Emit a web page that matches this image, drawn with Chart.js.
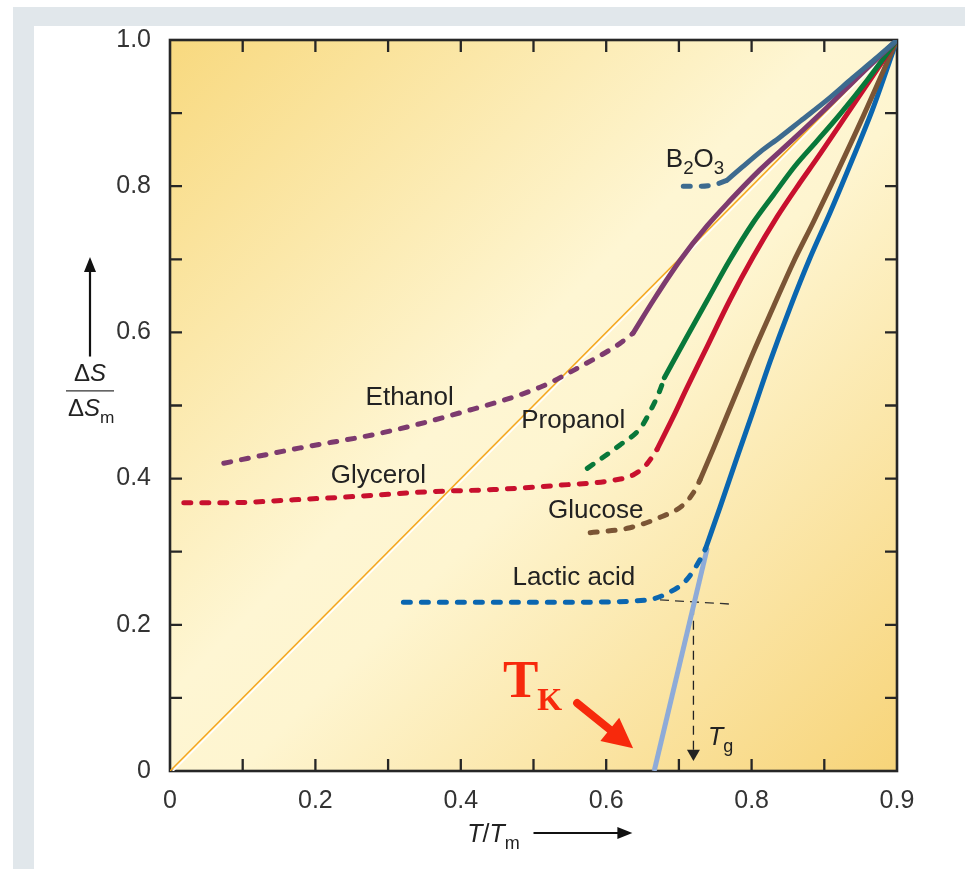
<!DOCTYPE html>
<html>
<head>
<meta charset="utf-8">
<title>Entropy of supercooled liquids</title>
<script src="https://cdn.jsdelivr.net/npm/chart.js@4.4.1/dist/chart.umd.min.js"></script>
<style>
  html, body { margin: 0; padding: 0; background: #fff; }
  #page { position: relative; width: 965px; height: 869px; overflow: hidden; background: #fff; }
  .band { position: absolute; background: #e1e7eb; }
  #bandTop { left: 13px; top: 7px; width: 952px; height: 19px; }
  #bandLeft { left: 13px; top: 7px; width: 21px; height: 862px; }
  canvas { position: absolute; left: 0; top: 0; }
</style>
</head>
<body>
<div id="page">
  <div class="band" id="bandTop"></div>
  <div class="band" id="bandLeft"></div>
  <canvas id="chart" width="965" height="869"></canvas>
</div>
<script>
// Axis ticks (T/Tm across, ΔS/ΔSm up)
const xTickValues = [0, 0.2, 0.4, 0.6, 0.8, 1.0];
const xTickLabels = ['0', '0.2', '0.4', '0.6', '0.8', '0.9'];
const yTickValues = [0, 0.2, 0.4, 0.6, 0.8, 1.0];
const yTickLabels = ['0', '0.2', '0.4', '0.6', '0.8', '1.0'];
const frameTicks = [0.1, 0.2, 0.3, 0.4, 0.5, 0.6, 0.7, 0.8, 0.9];

// Entropy excess of the crystal-equivalent line
const kauzmannDiagonal = [[0, 0], [1, 1]];

// Each substance: glassy branch (dashed) and liquid branch (solid), [T/Tm, ΔS/ΔSm]
const b2o3Glass = [[0.706, 0.800], [0.730, 0.800], [0.752, 0.803], [0.766, 0.808]];
const b2o3Liquid = [[0.766, 0.808], [0.787, 0.826], [0.812, 0.847], [0.839, 0.867], [0.867, 0.889], [0.904, 0.918], [0.939, 0.948], [0.970, 0.974], [1, 1]];

const ethanolGlass = [[0.074, 0.421], [0.179, 0.442], [0.289, 0.462], [0.399, 0.490], [0.509, 0.525], [0.564, 0.553], [0.619, 0.585], [0.637, 0.599]];
const ethanolLiquid = [[0.637, 0.599], [0.665, 0.644], [0.702, 0.699], [0.739, 0.746], [0.770, 0.780], [0.811, 0.822], [0.857, 0.864], [0.904, 0.908], [0.949, 0.952], [1, 1]];

const propanolGlass = [[0.574, 0.414], [0.619, 0.446], [0.647, 0.469], [0.663, 0.497], [0.674, 0.521], [0.680, 0.538]];
const propanolLiquid = [[0.680, 0.538], [0.711, 0.594], [0.739, 0.644], [0.770, 0.699], [0.802, 0.750], [0.830, 0.788], [0.860, 0.828], [0.890, 0.862], [0.922, 0.899], [0.959, 0.945], [1, 1]];

const glycerolGlass = [[0.019, 0.367], [0.079, 0.367], [0.170, 0.371], [0.262, 0.376], [0.354, 0.382], [0.445, 0.385], [0.537, 0.391], [0.605, 0.397], [0.637, 0.405], [0.656, 0.420], [0.670, 0.440]];
const glycerolLiquid = [[0.670, 0.440], [0.692, 0.484], [0.711, 0.524], [0.739, 0.581], [0.770, 0.644], [0.802, 0.703], [0.835, 0.758], [0.866, 0.804], [0.890, 0.838], [0.935, 0.904], [1, 1]];

const glucoseGlass = [[0.578, 0.326], [0.629, 0.332], [0.674, 0.347], [0.706, 0.364], [0.722, 0.384], [0.729, 0.398]];
const glucoseLiquid = [[0.729, 0.398], [0.747, 0.440], [0.766, 0.486], [0.784, 0.529], [0.802, 0.572], [0.830, 0.635], [0.857, 0.695], [0.885, 0.751], [0.912, 0.807], [0.950, 0.888], [1, 1]];

const lacticGlass = [[0.321, 0.231], [0.427, 0.231], [0.564, 0.231], [0.656, 0.234], [0.688, 0.245], [0.711, 0.262], [0.729, 0.289], [0.737, 0.305]];
const lacticLiquid = [[0.737, 0.305], [0.757, 0.362], [0.780, 0.429], [0.802, 0.492], [0.825, 0.559], [0.853, 0.634], [0.880, 0.701], [0.908, 0.764], [0.935, 0.828], [0.966, 0.904], [1, 1]];

// Extrapolation of the lactic-acid liquid down to zero excess entropy (T_K)
const kauzmannExtrapolation = [[0.666, 0], [0.739, 0.305]];

// Glass-transition construction for lactic acid
const tgHorizontal = [[0.674, 0.234], [0.777, 0.228]];
const tgVertical = [[0.720, 0.226], [0.720, 0.024]];

// Annotation anchors in data units (left edge, baseline)
const curveLabels = [
  { runs: [['Ethanol']], x: 0.269, y: 0.501 },
  { runs: [['Propanol']], x: 0.483, y: 0.469 },
  { runs: [['Glycerol']], x: 0.221, y: 0.394 },
  { runs: [['Glucose']], x: 0.520, y: 0.346 },
  { runs: [['Lactic acid']], x: 0.471, y: 0.254 },
  { runs: [['B'], ['2', 'sub'], ['O'], ['3', 'sub']], x: 0.682, y: 0.826 }
];
const tgLabelAt = { x: 0.740, y: 0.036 };
const tkLabelAt = { x: 0.458, y: 0.101 };
const tkArrow = { from: [0.560, 0.093], to: [0.637, 0.031] };

const SANS = '"Liberation Sans", Arial, Helvetica, sans-serif';
const SERIF = '"Liberation Serif", "Times New Roman", serif';

const pts = arr => arr.map(([x, y]) => ({ x, y }));

function liquid(label, data, color) {
  return {
    label, data: pts(data), borderColor: color, borderWidth: 5,
    borderCapStyle: 'round', borderJoinStyle: 'round',
    pointRadius: 0, pointHoverRadius: 0, fill: false,
    cubicInterpolationMode: 'monotone', order: 0
  };
}
function glass(label, data, color) {
  return Object.assign(liquid(label, data, color), { borderDash: [7, 11] });
}

const COLORS = {
  b2o3: '#3d6b8f', ethanol: '#7d3a6f', propanol: '#08783a', glycerol: '#c8102e',
  glucose: '#7b5535', lactic: '#0a66b0', extrap: '#8eabd8', diag: '#f4a51c'
};

const datasets = [
  { label: 'ideal', data: pts(kauzmannDiagonal), borderColor: COLORS.diag, borderWidth: 1.5,
    pointRadius: 0, fill: false, tension: 0, order: 5, glow: true },
  { label: 'T_K extrapolation', data: pts(kauzmannExtrapolation), borderColor: COLORS.extrap, borderWidth: 5,
    borderCapStyle: 'butt', pointRadius: 0, fill: false, tension: 0, order: 2 },
  { label: 'Tg horizontal', data: pts(tgHorizontal), borderColor: '#333', borderWidth: 1.3,
    borderDash: [9, 6], pointRadius: 0, fill: false, tension: 0, order: 3 },
  { label: 'Tg vertical', data: pts(tgVertical), borderColor: '#222', borderWidth: 1.3,
    borderDash: [9, 6], pointRadius: [0, 7.5], pointStyle: 'triangle', rotation: 180,
    pointBackgroundColor: '#222', pointBorderWidth: 0, fill: false, tension: 0, order: 3 },
  glass('B2O3 glass', b2o3Glass, COLORS.b2o3),
  liquid('B2O3', b2o3Liquid, COLORS.b2o3),
  glass('Ethanol glass', ethanolGlass, COLORS.ethanol),
  liquid('Ethanol', ethanolLiquid, COLORS.ethanol),
  glass('Propanol glass', propanolGlass, COLORS.propanol),
  liquid('Propanol', propanolLiquid, COLORS.propanol),
  glass('Glycerol glass', glycerolGlass, COLORS.glycerol),
  liquid('Glycerol', glycerolLiquid, COLORS.glycerol),
  glass('Glucose glass', glucoseGlass, COLORS.glucose),
  liquid('Glucose', glucoseLiquid, COLORS.glucose),
  glass('Lactic acid glass', lacticGlass, COLORS.lactic),
  liquid('Lactic acid', lacticLiquid, COLORS.lactic)
];

// Draw a sequence of text runs (normal / subscript / italic) starting at x
function drawRuns(ctx, x, y, runs, size, family, color) {
  ctx.fillStyle = color;
  ctx.textBaseline = 'alphabetic';
  ctx.textAlign = 'left';
  let cx = x;
  runs.forEach(([t, kind]) => {
    const sub = kind === 'sub';
    const ital = kind === 'ital';
    const s = sub ? size * 0.72 : size;
    ctx.font = (ital ? 'italic ' : '') + s + 'px ' + family;
    ctx.fillText(t, cx, sub ? y + size * 0.28 : y);
    cx += ctx.measureText(t).width;
  });
  return cx;
}

function arrowHead(ctx, tipX, tipY, ang, len, half) {
  ctx.beginPath();
  ctx.moveTo(tipX, tipY);
  ctx.lineTo(tipX - len * Math.cos(ang) + half * Math.sin(ang), tipY - len * Math.sin(ang) - half * Math.cos(ang));
  ctx.lineTo(tipX - len * Math.cos(ang) - half * Math.sin(ang), tipY - len * Math.sin(ang) + half * Math.cos(ang));
  ctx.closePath();
  ctx.fill();
}

const backdrop = {
  id: 'backdrop',
  beforeDatasetsDraw(chart) {
    const { ctx, chartArea: a, scales: { x, y } } = chart;
    ctx.save();
    const g = ctx.createLinearGradient(a.left, a.top, a.right, a.bottom);
    g.addColorStop(0, '#f8d97f');
    g.addColorStop(0.45, '#fef6d3');
    g.addColorStop(0.55, '#fef5d0');
    g.addColorStop(1, '#f7d479');
    ctx.fillStyle = g;
    ctx.fillRect(a.left, a.top, a.width, a.height);

    // frame with inward ticks on all four sides
    ctx.strokeStyle = '#262626';
    ctx.lineWidth = 2.6;
    ctx.strokeRect(a.left, a.top, a.width, a.height);
    ctx.lineWidth = 2.3;
    ctx.beginPath();
    frameTicks.forEach(v => {
      const px = x.getPixelForValue(v), py = y.getPixelForValue(v);
      ctx.moveTo(px, a.bottom); ctx.lineTo(px, a.bottom - 12);
      ctx.moveTo(px, a.top); ctx.lineTo(px, a.top + 12);
      ctx.moveTo(a.left, py); ctx.lineTo(a.left + 12, py);
      ctx.moveTo(a.right, py); ctx.lineTo(a.right - 12, py);
    });
    ctx.stroke();
    ctx.restore();
  },
  beforeDatasetDraw(chart, args) {
    if (chart.data.datasets[args.index].glow) {
      const ctx = chart.ctx;
      ctx.save();
      ctx.shadowColor = '#ffffff';
      ctx.shadowOffsetX = 1.5;
      ctx.shadowOffsetY = 1.5;
      ctx.shadowBlur = 0;
    }
  },
  afterDatasetDraw(chart, args) {
    if (chart.data.datasets[args.index].glow) chart.ctx.restore();
  }
};

const annotations = {
  id: 'annotations',
  afterDatasetsDraw(chart) {
    const { ctx, chartArea: a, scales: { x, y } } = chart;
    ctx.save();
    // curve names
    curveLabels.forEach(l => {
      drawRuns(ctx, x.getPixelForValue(l.x), y.getPixelForValue(l.y), l.runs, 26, SANS, '#222');
    });
    // T_g
    drawRuns(ctx, x.getPixelForValue(tgLabelAt.x), y.getPixelForValue(tgLabelAt.y),
      [['T', 'ital'], ['g', 'sub']], 25, SANS, '#222');
    // T_K in red serif
    ctx.fillStyle = '#f7290c';
    ctx.font = 'bold 53px ' + SERIF;
    ctx.textBaseline = 'alphabetic';
    const tkx = x.getPixelForValue(tkLabelAt.x), tky = y.getPixelForValue(tkLabelAt.y);
    ctx.fillText('T', tkx, tky);
    const tw = ctx.measureText('T').width;
    ctx.font = 'bold 32px ' + SERIF;
    ctx.fillText('K', tkx + tw - 1, tky + 13);
    // red arrow toward T_K
    const fx = x.getPixelForValue(tkArrow.from[0]), fy = y.getPixelForValue(tkArrow.from[1]);
    const tx = x.getPixelForValue(tkArrow.to[0]), ty = y.getPixelForValue(tkArrow.to[1]);
    const ang = Math.atan2(ty - fy, tx - fx);
    ctx.strokeStyle = '#f7290c';
    ctx.lineWidth = 8;
    ctx.lineCap = 'round';
    ctx.beginPath();
    ctx.moveTo(fx, fy);
    ctx.lineTo(tx - 20 * Math.cos(ang), ty - 20 * Math.sin(ang));
    ctx.stroke();
    arrowHead(ctx, tx, ty, ang, 30, 15);

    // x-axis title with arrow
    const bx = x.getPixelForValue(0.409), by = a.bottom + 71;
    drawRuns(ctx, bx, by, [['T', 'ital'], ['/'], ['T', 'ital'], ['m', 'sub']], 25, SANS, '#222');
    ctx.strokeStyle = '#111';
    ctx.fillStyle = '#111';
    ctx.lineWidth = 2.2;
    ctx.lineCap = 'butt';
    const ax0 = x.getPixelForValue(0.5), ax1 = x.getPixelForValue(0.636), ay = by - 9;
    ctx.beginPath(); ctx.moveTo(ax0, ay); ctx.lineTo(ax1 - 10, ay); ctx.stroke();
    arrowHead(ctx, ax1, ay, 0, 15, 6);

    // y-axis title: fraction with arrow above
    const cx = a.left - 80;
    const fs = 24;
    ctx.font = fs + 'px ' + SANS;
    const d = ctx.measureText('Δ').width;
    ctx.font = 'italic ' + fs + 'px ' + SANS;
    const topW = d + ctx.measureText('S').width;
    drawRuns(ctx, cx - topW / 2, y.getPixelForValue(0.533), [['Δ'], ['S', 'ital']], fs, SANS, '#222');
    ctx.strokeStyle = '#333';
    ctx.lineWidth = 1.2;
    const ly = y.getPixelForValue(0.520);
    ctx.beginPath(); ctx.moveTo(cx - 24, ly); ctx.lineTo(cx + 24, ly); ctx.stroke();
    drawRuns(ctx, cx - topW / 2 - 6, y.getPixelForValue(0.485), [['Δ'], ['S', 'ital'], ['m', 'sub']], fs, SANS, '#222');
    ctx.strokeStyle = '#111';
    ctx.fillStyle = '#111';
    ctx.lineWidth = 2.2;
    const vy0 = y.getPixelForValue(0.567), vy1 = y.getPixelForValue(0.703);
    ctx.beginPath(); ctx.moveTo(cx, vy0); ctx.lineTo(cx, vy1 + 10); ctx.stroke();
    arrowHead(ctx, cx, vy1, -Math.PI / 2, 15, 6);
    ctx.restore();
  }
};

new Chart(document.getElementById('chart'), {
  type: 'line',
  data: { datasets },
  options: {
    responsive: false,
    animation: false,
    devicePixelRatio: 1,
    layout: { padding: { left: 0, right: 68, top: 40, bottom: 0 } },
    plugins: { legend: { display: false }, tooltip: { enabled: false } },
    events: [],
    scales: {
      x: {
        type: 'linear', min: 0, max: 1,
        grid: { display: false }, border: { display: false },
        afterBuildTicks: s => { s.ticks = xTickValues.map(v => ({ value: v })); },
        afterFit: s => { s.height = 98; },
        ticks: {
          autoSkip: false, maxRotation: 0, padding: 7, color: '#333',
          font: { family: SANS, size: 25 },
          callback: (v, i) => xTickLabels[i]
        }
      },
      y: {
        type: 'linear', min: 0, max: 1,
        grid: { display: false }, border: { display: false },
        afterBuildTicks: s => { s.ticks = yTickValues.map(v => ({ value: v })); },
        afterFit: s => { s.width = 170; },
        ticks: {
          autoSkip: false, padding: 11, color: '#333',
          font: { family: SANS, size: 25 },
          callback: (v, i) => yTickLabels[i]
        }
      }
    }
  },
  plugins: [backdrop, annotations]
});
</script>
</body>
</html>
